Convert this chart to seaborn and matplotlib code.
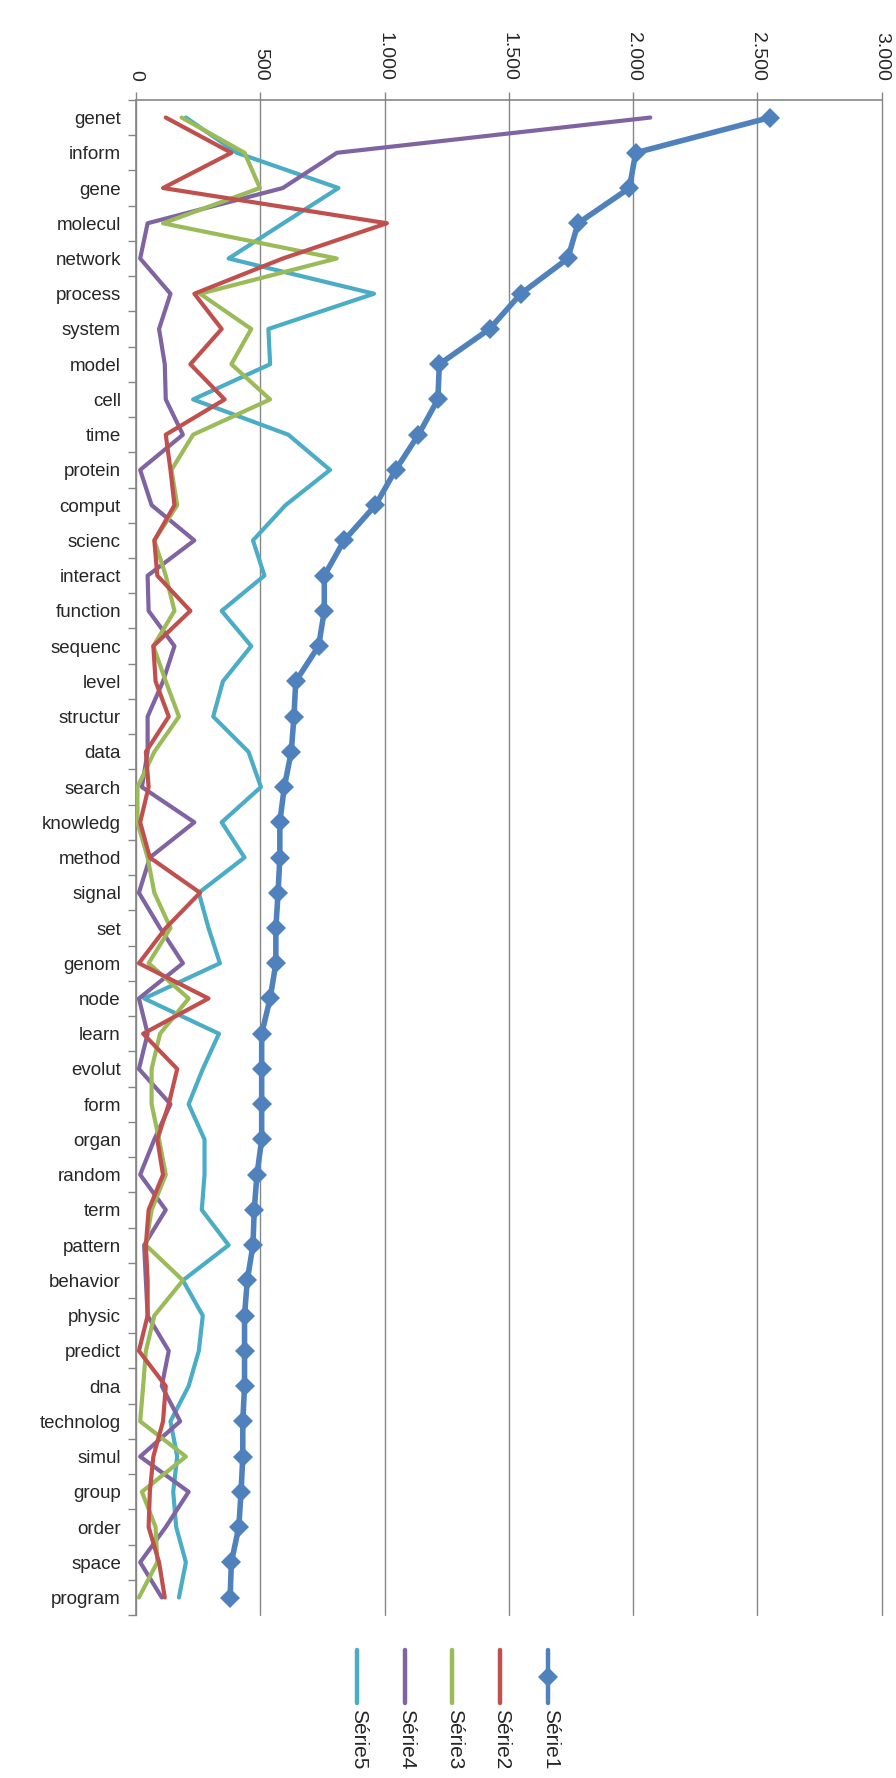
import numpy as np
import matplotlib
matplotlib.use("Agg")
import matplotlib.pyplot as plt
from matplotlib.lines import Line2D
import seaborn as sns

categories = ["genet", "inform", "gene", "molecul", "network", "process", "system", "model",
              "cell", "time", "protein", "comput", "scienc", "interact", "function", "sequenc",
              "level", "structur", "data", "search", "knowledg", "method", "signal", "set",
              "genom", "node", "learn", "evolut", "form", "organ", "random", "term", "pattern",
              "behavior", "physic", "predict", "dna", "technolog", "simul", "group", "order",
              "space", "program"]

serie1 = [2550, 2010, 1985, 1778, 1737, 1548, 1422, 1220, 1214, 1136, 1044, 963, 837, 757,
          757, 734, 642, 635, 624, 596, 578, 578, 571, 562, 562, 539, 505, 505, 505, 505,
          486, 475, 470, 447, 436, 436, 436, 429, 429, 422, 413, 383, 378]
serie2 = [119, 383, 108, 1009, 590, 234, 344, 218, 356, 119, 138, 154, 73, 85, 218, 69, 78,
          131, 39, 50, 16, 55, 257, 119, 11, 291, 28, 165, 131, 85, 108, 50, 39, 46, 46, 11,
          119, 108, 69, 55, 50, 92, 115]
serie3 = [183, 436, 498, 108, 807, 257, 463, 383, 539, 229, 142, 165, 73, 119, 154, 69, 119,
          172, 73, 5, 5, 46, 73, 138, 50, 211, 96, 62, 62, 92, 119, 62, 39, 188, 73, 39, 28,
          16, 200, 23, 78, 85, 11]
serie4 = [2069, 808, 590, 46, 16, 138, 92, 115, 119, 188, 16, 62, 234, 46, 50, 154, 108, 46,
          46, 23, 234, 55, 11, 96, 188, 11, 46, 11, 138, 73, 16, 119, 32, 39, 46, 131, 103,
          177, 16, 211, 119, 16, 103]
serie5 = [200, 405, 814, 592, 372, 957, 532, 539, 229, 612, 780, 601, 470, 516, 344, 463, 349,
          310, 452, 502, 344, 436, 252, 291, 337, 32, 333, 268, 211, 275, 275, 264, 372, 188,
          268, 252, 211, 138, 165, 149, 161, 200, 172]

series_names = ["Série1", "Série2", "Série3", "Série4", "Série5"]
series_values = [serie1, serie2, serie3, serie4, serie5]
colors = ["#4F81BD", "#C0504D", "#9BBB59", "#8064A2", "#4BACC6"]
x_ticks = [0, 500, 1000, 1500, 2000, 2500, 3000]
x_tick_labels = ["0", "500", "1.000", "1.500", "2.000", "2.500", "3.000"]

sns.set_theme(style="white")
plt.rcParams["font.family"] = ["Liberation Sans Narrow", "Liberation Sans", "DejaVu Sans"]

fig = plt.figure(figsize=(8.96, 17.78), dpi=100)
ax = fig.add_axes([0.152, 0.0916, 0.832, 0.8522])

pos = np.arange(len(categories))
grid_col = "#868686"

# draw series 5 first so Série1 sits on top
for name, vals, col in reversed(list(zip(series_names, series_values, colors))):
    if name == "Série1":
        sns.lineplot(x=vals, y=pos, orient="y", sort=False, estimator=None, ax=ax,
                     color=col, linewidth=4.0, marker="D", markersize=10.5,
                     markeredgewidth=0, zorder=5)
    else:
        sns.lineplot(x=vals, y=pos, orient="y", sort=False, estimator=None, ax=ax,
                     color=col, linewidth=3.0, zorder=4)

ax.set_xlim(0, 3000)
ax.set_ylim(len(categories) - 0.5, -0.5)

ax.xaxis.tick_top()
ax.set_xticks(x_ticks)
ax.set_xticklabels(x_tick_labels, rotation=270, fontsize=14)
ax.tick_params(axis="x", top=True, bottom=False, direction="out", length=6,
               width=1, color=grid_col, pad=8)
ax.grid(axis="x", color=grid_col, linewidth=1)
ax.grid(axis="y", visible=False)
for gl in ax.get_xgridlines():
    gl.set_clip_on(False)

ax.set_yticks(pos)
ax.set_yticklabels(categories, fontsize=13.5)
ax.set_yticks(np.arange(len(categories) + 1) - 0.5, minor=True)
ax.tick_params(axis="y", which="major", length=0, pad=11)
ax.tick_params(axis="y", which="minor", left=True, direction="out", length=6,
               width=1, color=grid_col)

for side in ["bottom", "right"]:
    ax.spines[side].set_visible(False)
for side in ["top", "left"]:
    ax.spines[side].set_color(grid_col)
    ax.spines[side].set_linewidth(1.2)
ax.set_xlabel("")
ax.set_ylabel("")

# vertical legend below the plot, Série1 on the right
leg_x = [0.612, 0.558, 0.505, 0.452, 0.398]
for name, col, lx in zip(series_names, colors, leg_x):
    fig.add_artist(Line2D([lx, lx], [0.042, 0.072], color=col, linewidth=3.2,
                          solid_capstyle="round", transform=fig.transFigure))
    if name == "Série1":
        fig.add_artist(Line2D([lx], [0.057], color=col, marker="D", markersize=10,
                              markeredgewidth=0, transform=fig.transFigure))
    fig.text(lx + 0.002, 0.039, name, rotation=270, ha="center", va="top", fontsize=15)

fig.savefig("out.png", dpi=100)
